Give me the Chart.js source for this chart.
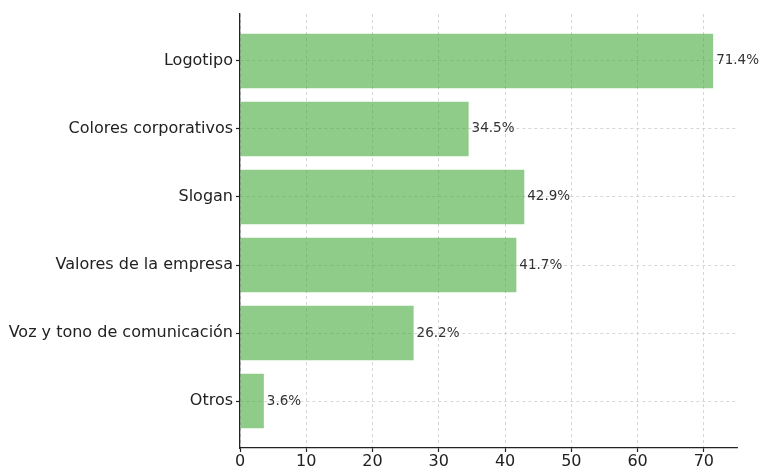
<!DOCTYPE html>
<html lang="es">
<head>
	<meta charset="UTF-8">
	<title>Elementos de identidad</title>
	<script src="https://cdn.jsdelivr.net/npm/chart.js"></script>
	<style>
		body { margin: 0; padding: 0; background: #fff; }
		#wrap { width: 760px; height: 467px; position: relative; }
	</style>
</head>
<body>
	<div id="wrap"><canvas id="chart"></canvas></div>
	<script>
		const categories = ['Logotipo', 'Colores corporativos', 'Slogan', 'Valores de la empresa', 'Voz y tono de comunicación', 'Otros'];
		const percentages = [71.4, 34.5, 42.9, 41.7, 26.2, 3.6];
		const xTicks = [0, 10, 20, 30, 40, 50, 60, 70];

		const font = 'DejaVu Sans';

		// text at the end of each bar
		const valueLabels = {
			id: 'valueLabels',
			afterDatasetsDraw(chart) {
				const ctx = chart.ctx;
				const meta = chart.getDatasetMeta(0);
				ctx.save();
				ctx.font = '13.5px "' + font + '"';
				ctx.fillStyle = '#333';
				ctx.textAlign = 'left';
				ctx.textBaseline = 'middle';
				meta.data.forEach((bar, i) => {
					ctx.fillText(percentages[i].toFixed(1) + '%', bar.x + 3, bar.y);
				});
				ctx.restore();
			}
		};

		const gridOpts = {
			color: '#cccccc',
			offset: false,
			tickBorderDash: [4, 0],
			tickColor: '#222',
			tickWidth: 1.2,
			tickLength: 4,
			lineWidth: 0.8
		};
		const borderOpts = { display: true, color: '#222', width: 1.3, dash: [3, 3] };

		new Chart(document.getElementById('chart'), {
			type: 'bar',
			data: {
				datasets: [{
					data: percentages.map((v, i) => ({ x: v, y: i })),
					backgroundColor: 'rgba(51,160,40,0.55)',
					borderWidth: 0,
					barPercentage: 0.8,
					categoryPercentage: 1.0
				}]
			},
			options: {
				indexAxis: 'y',
				responsive: true,
				maintainAspectRatio: false,
				animation: false,
				layout: { padding: { top: 14, right: 23, left: 0, bottom: 0 } },
				plugins: { legend: { display: false }, tooltip: { enabled: false } },
				scales: {
					x: {
						type: 'linear',
						min: 0,
						max: 75,
						offset: false,
						grid: gridOpts,
						border: borderOpts,
						afterBuildTicks: axis => { axis.ticks = xTicks.map(v => ({ value: v })); },
						afterFit: axis => { axis.height = 19; },
						ticks: {
							padding: 0,
							color: '#222',
							font: { family: font, size: 16 },
							maxRotation: 0
						}
					},
					y: {
						type: 'linear',
						reverse: true,
						min: -0.69,
						max: 5.69,
						offset: false,
						grid: gridOpts,
						border: borderOpts,
						afterBuildTicks: axis => { axis.ticks = categories.map((c, i) => ({ value: i })); },
						afterFit: axis => { axis.width = 240; },
						ticks: {
							padding: 3,
							color: '#222',
							font: { family: font, size: 16 },
							callback: v => categories[v]
						}
					}
				}
			},
			plugins: [valueLabels]
		});
	</script>
</body>
</html>
